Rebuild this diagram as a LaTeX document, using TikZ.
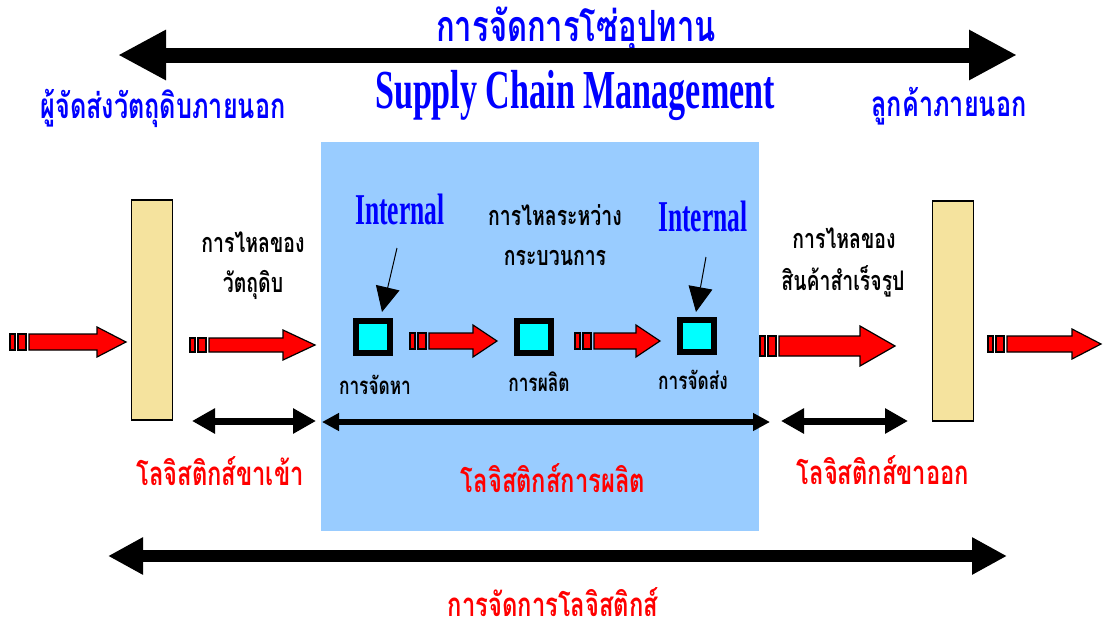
\documentclass[tikz,border=0pt]{standalone}
\usepackage{fontspec}
\newfontfamily\thaifont[Script=Thai,FakeStretch=0.72]{Loma}
\newfontfamily\headfont[FakeStretch=0.62]{Liberation Serif}
\newfontfamily\intfont[FakeStretch=0.58]{Liberation Serif}
\usetikzlibrary{arrows.meta,positioning}
\definecolor{panelblue}{HTML}{99CCFF}
\definecolor{bartan}{HTML}{F5E39E}
\definecolor{boxcyan}{HTML}{00FFFF}

\begin{document}
\begin{tikzpicture}[x=1pt, y=-1pt,
  every node/.style={inner sep=0pt},
  bluehead/.style={text=blue, font={\thaifont\bfseries\fontsize{43}{46}\selectfont}},
  bluelab/.style={text=blue, font={\thaifont\bfseries\fontsize{35}{38}\selectfont}},
  scmen/.style={text=blue, font={\headfont\bfseries\fontsize{55}{58}\selectfont}},
  intlab/.style={text=blue, font={\intfont\bfseries\fontsize{44}{48}\selectfont}},
  flowlab/.style={text=black, font={\thaifont\bfseries\fontsize{27}{30}\selectfont}},
  steplab/.style={text=black, font={\thaifont\bfseries\fontsize{24}{28}\selectfont}},
  redlab/.style={text=red, font={\thaifont\bfseries\fontsize{33}{36}\selectfont}},
  bar/.style={draw=black, line width=1.2pt, fill=bartan, minimum width=41pt, minimum height=220pt},
  stepbox/.style={draw=black, line width=6pt, fill=boxcyan, minimum width=34pt, minimum height=32pt},
  redflow/.style={fill=red, draw=black, line width=1.2pt},
  bigdbl/.style={line width=15pt, {Triangle[length=48pt,width=47pt]}-{Triangle[length=48pt,width=47pt]}},
  basedbl/.style={line width=12pt, {Triangle[length=35pt,width=35pt]}-{Triangle[length=35pt,width=35pt]}},
  sidedbl/.style={line width=7pt, {Triangle[length=23pt,width=24pt]}-{Triangle[length=23pt,width=24pt]}},
  proddbl/.style={line width=6pt, {Triangle[length=17pt,width=17pt]}-{Triangle[length=17pt,width=17pt]}},
  pointer/.style={line width=1pt, -{Triangle[length=25pt,width=24pt]}}]

  \useasboundingbox (0,0) rectangle (1104,632);

  % Production area
  \fill[panelblue] (321,142) rectangle (759,531);

  % Supply chain arrow and headings
  \node[bluehead] (scmth) at (576,30) {การจัดการโซ่อุปทาน};
  \coordinate (scmL) at (118,55);
  \coordinate (scmR) at (1017,55);
  \draw[bigdbl] (scmL) -- (scmR);
  \node[scmen] (scmen) at (575,95) {Supply Chain Management};
  \node[bluelab] (supplier) at (163,108) {ผู้จัดส่งวัตถุดิบภายนอก};
  \node[bluelab] (customer) at (949,106) {ลูกค้าภายนอก};

  % Supplier and customer bars
  \node[bar] (inbar) at (152,310) {};
  \node[bar] (outbar) at (953,311) {};

  % Flow arrows (start, tip, y, half shaft, half head, head length)
  \foreach \xa/\xb/\yc/\sh/\hh/\hl in {10/126/342/8/15/29, 190/315/345/7/15/32,
      410/497/341/8/16/24, 575/660/341/8/16/24, 760/895/346/10/20/35, 988/1101/344/8/15/29}{
    \filldraw[redflow] (\xa,\yc-\sh) rectangle (\xa+5,\yc+\sh);
    \filldraw[redflow] (\xa+8,\yc-\sh) rectangle (\xa+16,\yc+\sh);
    \filldraw[redflow] (\xa+19,\yc-\sh) -- (\xb-\hl,\yc-\sh) -- (\xb-\hl,\yc-\hh) -- (\xb,\yc)
      -- (\xb-\hl,\yc+\hh) -- (\xb-\hl,\yc+\sh) -- (\xa+19,\yc+\sh) -- cycle;
  }

  % Internal steps
  \node[stepbox] (source) at (373,337) {};
  \node[stepbox] (make) at (534,337) {};
  \node[stepbox] (deliver) at (697,336) {};
  \node[steplab] (sourcelab) at (375,385) {การจัดหา};
  \node[steplab] (makelab) at (539,382) {การผลิต};
  \node[steplab] (deliverlab) at (693,380) {การจัดส่ง};

  \node[intlab] (int1) at (400,209) {Internal};
  \node[intlab] (int2) at (703,216) {Internal};
  \draw[pointer] ([shift={(-3,39)}]int1.center) -- ([shift={(9,-6)}]source.north);
  \draw[pointer] ([shift={(3,41)}]int2.center) -- ([shift={(-1,-5)}]deliver.north);

  % Flow texts
  \node[flowlab] (rawflow1) at (253,242) {การไหลของ};
  \node[flowlab] (rawflow2) at (253,285) {วัตถุดิบ};
  \node[flowlab] (midflow1) at (555,215) {การไหลระหว่าง};
  \node[flowlab] (midflow2) at (555,258) {กระบวนการ};
  \node[flowlab] (outflow1) at (844,238) {การไหลของ};
  \node[flowlab] (outflow2) at (843,281) {สินค้าสำเร็จรูป};

  % Logistics spans
  \coordinate (inL) at (192,421);
  \coordinate (inR) at (316,421);
  \coordinate (prodL) at (322,422);
  \coordinate (prodR) at (770,422);
  \coordinate (outL) at (781,421);
  \coordinate (outR) at (908,421);
  \draw[sidedbl] (inL) -- (inR);
  \draw[proddbl] (prodL) -- (prodR);
  \draw[sidedbl] (outL) -- (outR);
  \node[redlab] (inlog) at (220,471) {โลจิสติกส์ขาเข้า};
  \node[redlab] (prodlog) at (553,478) {โลจิสติกส์การผลิต};
  \node[redlab] (outlog) at (883,470) {โลจิสติกส์ขาออก};

  % Logistics management arrow
  \coordinate (logL) at (108,556);
  \coordinate (logR) at (1007,556);
  \draw[basedbl] (logL) -- (logR);
  \node[redlab, anchor=base, text depth=0pt] (logmgmt) at (553,616) {การจัดการโลจิสติกส์};
\end{tikzpicture}
\end{document}
